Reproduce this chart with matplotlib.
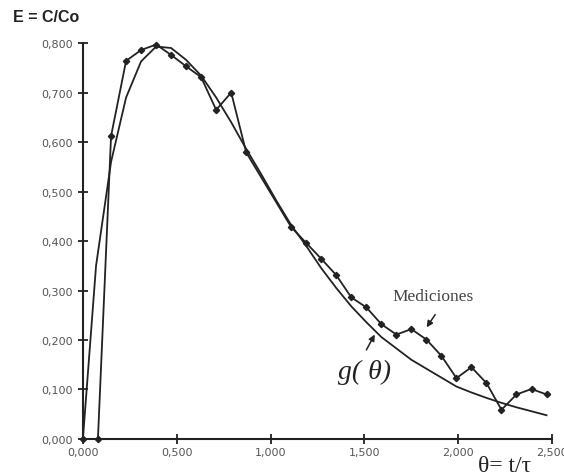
import matplotlib
matplotlib.use('Agg')
import matplotlib.pyplot as plt
from matplotlib.ticker import FixedLocator, FuncFormatter

# measured points (Mediciones)
theta_med = [0.0, 0.08, 0.15, 0.23, 0.31, 0.39, 0.47, 0.55, 0.63, 0.71, 0.79, 0.87,
             1.11, 1.19, 1.27, 1.35, 1.43, 1.51, 1.59, 1.67, 1.75, 1.83, 1.91,
             1.99, 2.07, 2.15, 2.23, 2.31, 2.39, 2.47]
E_med = [0.0, 0.0, 0.612, 0.764, 0.786, 0.797, 0.776, 0.753, 0.731, 0.665, 0.700, 0.579,
         0.428, 0.396, 0.364, 0.331, 0.286, 0.266, 0.232, 0.211, 0.222, 0.201, 0.168,
         0.123, 0.145, 0.113, 0.059, 0.090, 0.101, 0.090]

# model curve g(theta)
theta_g = [0.0, 0.07, 0.15, 0.23, 0.31, 0.39, 0.47, 0.55, 0.63, 0.71, 0.79, 0.87, 0.95,
           1.03, 1.11, 1.19, 1.27, 1.35, 1.43, 1.51, 1.59, 1.67, 1.75, 1.83, 1.91,
           1.99, 2.07, 2.15, 2.23, 2.31, 2.39, 2.47]
E_g = [0.0, 0.35, 0.56, 0.69, 0.763, 0.793, 0.79, 0.766, 0.734, 0.69, 0.64, 0.586, 0.535,
       0.482, 0.432, 0.39, 0.345, 0.305, 0.268, 0.236, 0.206, 0.183, 0.160, 0.142, 0.124,
       0.106, 0.094, 0.083, 0.073, 0.064, 0.056, 0.048]

xticks = [0.0, 0.5, 1.0, 1.5, 2.0, 2.5]
yticks = [0.0, 0.1, 0.2, 0.3, 0.4, 0.5, 0.6, 0.7, 0.8]

fig = plt.figure(figsize=(5.64, 4.77), dpi=100)
ax = fig.add_axes([0.147, 0.0776, 0.832, 0.830])

ax.plot(theta_g, E_g, color='#222222', lw=1.3, clip_on=False)
ax.plot(theta_med, E_med, color='#222222', lw=1.3, marker='D', markersize=3.2,
        clip_on=False)

ax.set_xlim(0, 2.5)
ax.set_ylim(0, 0.8)
for s in ['top', 'right']:
    ax.spines[s].set_visible(False)
for s in ['left', 'bottom']:
    ax.spines[s].set_linewidth(1.5)
    ax.spines[s].set_color('#222222')

fmt = FuncFormatter(lambda v, p: ('%.3f' % v).replace('.', ','))
ax.xaxis.set_major_locator(FixedLocator(xticks))
ax.yaxis.set_major_locator(FixedLocator(yticks))
ax.xaxis.set_major_formatter(fmt)
ax.yaxis.set_major_formatter(fmt)
ax.tick_params(direction='inout', length=7, width=1.3, color='#222222',
               labelsize=8, labelcolor='#555555')
ax.tick_params(axis='y', pad=4)
ax.tick_params(axis='x', pad=2)

fig.text(0.023, 0.964, 'E = C/Co', fontsize=11.5, fontweight='bold',
         family='Liberation Sans', va='center', color='#222222')
fig.text(0.895, 0.023, 'θ= t/τ', fontsize=17, family='Liberation Serif',
         ha='center', va='center', color='#222222')

ax.text(1.866, 0.289, 'Mediciones', fontsize=12.5, family='Liberation Serif',
        ha='center', va='center', color='#444444')
ax.text(1.498, 0.137, 'g( θ)', fontsize=20, family='Liberation Serif', style='italic',
        ha='center', va='center', color='#222222')

arrow = dict(arrowstyle='-|>', color='#222222', lw=1.1, mutation_scale=9)
ax.annotate('', xy=(1.823, 0.221), xytext=(1.885, 0.256), arrowprops=arrow)
ax.annotate('', xy=(1.562, 0.216), xytext=(1.503, 0.175), arrowprops=arrow)

plt.savefig('out.png', dpi=100)
